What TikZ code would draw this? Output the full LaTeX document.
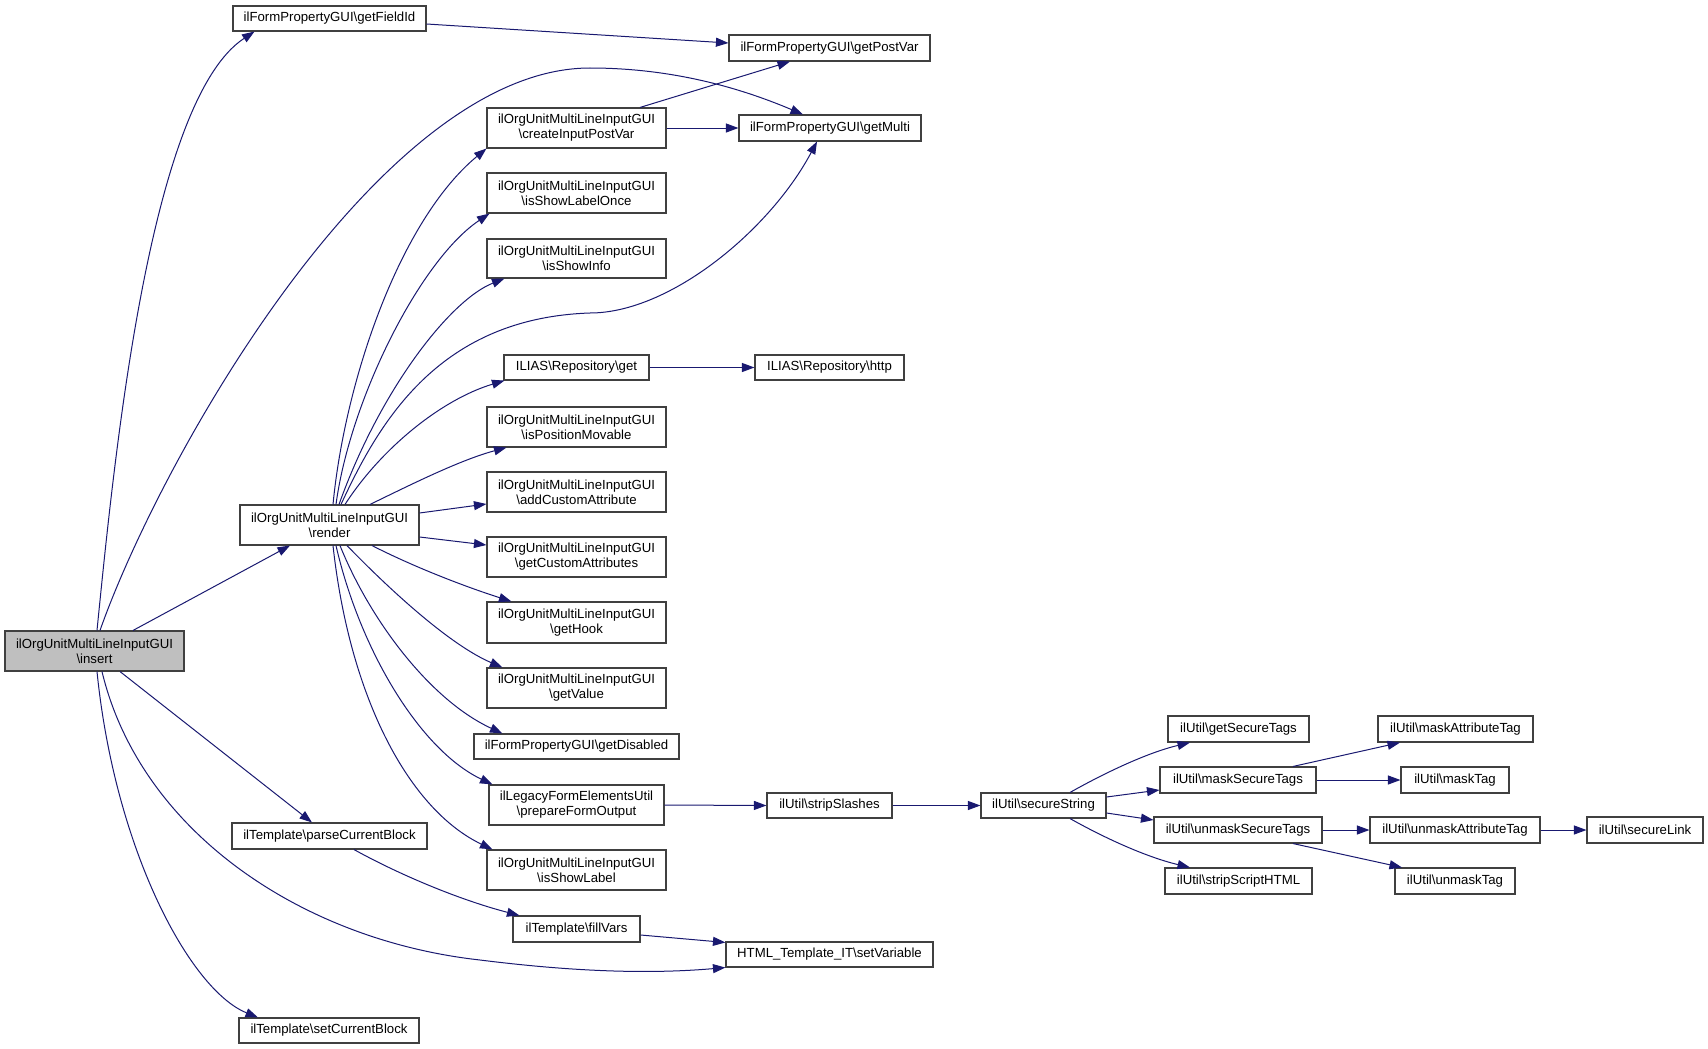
\documentclass[tikz,border=0pt]{standalone}
\usepackage{fontspec}
\setmainfont{Liberation Sans}
\usetikzlibrary{arrows.meta}
\definecolor{edgeblue}{HTML}{191970}
\definecolor{boxgray}{HTML}{404040}
\definecolor{fillgray}{HTML}{BFBFBF}
\def\bsl{\textbackslash}
\newcommand\nd[7][]{\node[box,#1,minimum width=#5pt,minimum height=#6pt] (#2) at (#3,#4) {#7};}
\begin{document}
\begin{tikzpicture}[x=1pt,y=-1pt,
  box/.style={draw=boxgray,line width=1.1pt,fill=white,inner sep=0pt,align=center,
    font=\fontsize{13.2}{15}\selectfont,text=black},
  curr/.style={fill=fillgray},
  edge/.style={draw=edgeblue,line width=1pt,-{Triangle[length=12.5pt,width=9pt]}}]
\useasboundingbox (0,0) rectangle (1708,1049);
% nodes
\nd[curr]{insert}{94.5}{651}{179}{40}{ilOrgUnitMultiLineInputGUI\\\bsl insert}
\nd{getFieldId}{329.5}{18.5}{193}{25}{ilFormPropertyGUI\bsl getFieldId}
\nd{render}{329.5}{525}{179}{40}{ilOrgUnitMultiLineInputGUI\\\bsl render}
\nd{parse}{329.5}{836}{195}{26}{ilTemplate\bsl parseCurrentBlock}
\nd{setcur}{329}{1030.5}{180}{25}{ilTemplate\bsl setCurrentBlock}
\nd{getPostVar}{829.5}{48}{201}{26}{ilFormPropertyGUI\bsl getPostVar}
\nd{getMulti}{830}{128}{182}{26}{ilFormPropertyGUI\bsl getMulti}
\nd{createIPV}{576.5}{128}{179}{40}{ilOrgUnitMultiLineInputGUI\\\bsl createInputPostVar}
\nd{showLabelOnce}{576.5}{193}{179}{40}{ilOrgUnitMultiLineInputGUI\\\bsl isShowLabelOnce}
\nd{showInfo}{576.5}{258.5}{179}{39}{ilOrgUnitMultiLineInputGUI\\\bsl isShowInfo}
\nd{repoGet}{576.5}{367.5}{145}{25}{ILIAS\bsl Repository\bsl get}
\nd{repoHttp}{829.5}{367.5}{149}{25}{ILIAS\bsl Repository\bsl http}
\nd{posMov}{576.5}{427}{179}{40}{ilOrgUnitMultiLineInputGUI\\\bsl isPositionMovable}
\nd{addCA}{576.5}{492}{179}{40}{ilOrgUnitMultiLineInputGUI\\\bsl addCustomAttribute}
\nd{getCA}{576.5}{557}{179}{40}{ilOrgUnitMultiLineInputGUI\\\bsl getCustomAttributes}
\nd{getHook}{576.5}{622.5}{179}{41}{ilOrgUnitMultiLineInputGUI\\\bsl getHook}
\nd{getValue}{576.5}{688}{179}{40}{ilOrgUnitMultiLineInputGUI\\\bsl getValue}
\nd{getDisabled}{576.5}{746.5}{205}{25}{ilFormPropertyGUI\bsl getDisabled}
\nd{prepare}{576.5}{805}{175}{40}{ilLegacyFormElementsUtil\\\bsl prepareFormOutput}
\nd{showLabel}{576.5}{870}{179}{40}{ilOrgUnitMultiLineInputGUI\\\bsl isShowLabel}
\nd{fillVars}{576.5}{929}{127}{26}{ilTemplate\bsl fillVars}
\nd{setVar}{829.5}{954.5}{207}{25}{HTML\_Template\_IT\bsl setVariable}
\nd{stripSlashes}{829.5}{805.5}{125}{25}{ilUtil\bsl stripSlashes}
\nd{secureString}{1043.5}{805.5}{125}{25}{ilUtil\bsl secureString}
\nd{getSecTags}{1238.5}{729}{141}{26}{ilUtil\bsl getSecureTags}
\nd{maskSecTags}{1238}{780}{156}{26}{ilUtil\bsl maskSecureTags}
\nd{unmaskSecTags}{1238}{830}{168}{26}{ilUtil\bsl unmaskSecureTags}
\nd{stripScript}{1238.5}{881}{147}{26}{ilUtil\bsl stripScriptHTML}
\nd{maskAttr}{1455.5}{729}{155}{26}{ilUtil\bsl maskAttributeTag}
\nd{maskTag}{1455}{780}{108}{26}{ilUtil\bsl maskTag}
\nd{unmaskAttr}{1455}{830}{170}{26}{ilUtil\bsl unmaskAttributeTag}
\nd{unmaskTag}{1455}{881}{120}{26}{ilUtil\bsl unmaskTag}
\nd{secureLink}{1645}{830}{116}{26}{ilUtil\bsl secureLink}
% edges from insert
\draw[edge] ([xshift=2.5pt]insert.north) .. controls (115,450) and (150,100) .. ([xshift=-75pt]getFieldId.south);
\draw[edge] ([xshift=5.5pt]insert.north) .. controls (160,460) and (380,68) .. (590,68) .. controls (680,68) and (750,92) .. ([xshift=-27pt]getMulti.north);
\draw[edge] ([xshift=38.5pt]insert.north) -- ([xshift=-39.5pt]render.south);
\draw[edge] ([xshift=25.5pt]insert.south) -- ([xshift=-17.5pt]parse.north);
\draw[edge] ([xshift=7.5pt]insert.south) .. controls (140,830) and (300,940) .. (480,960) .. controls (560,970) and (640,975) .. (setVar.south west);
\draw[edge] ([xshift=2.5pt]insert.south) .. controls (115,850) and (190,990) .. ([xshift=-71pt]setcur.north);
% getFieldId
\draw[edge] ([yshift=-5.5pt]getFieldId.east) -- ([yshift=5pt]getPostVar.west);
% edges from render
\draw[edge] ([xshift=3.5pt]render.north) .. controls (345,380) and (400,220) .. (createIPV.south west);
\draw[edge] ([xshift=6.5pt]render.north) .. controls (350,400) and (420,260) .. ([xshift=3pt]showLabelOnce.south west);
\draw[edge] ([xshift=9.5pt]render.north) .. controls (380,390) and (450,300) .. ([xshift=18pt]showInfo.south west);
\draw[edge] ([xshift=11.5pt]render.north) .. controls (380,420) and (440,318) .. (590,313) .. controls (670,313) and (770,230) .. ([xshift=-13pt]getMulti.south);
\draw[edge] ([xshift=15.5pt]render.north) .. controls (380,450) and (440,400) .. ([xshift=1pt]repoGet.south west);
\draw[edge] ([xshift=40.5pt]render.north) .. controls (410,485) and (460,460) .. ([xshift=20pt]posMov.south west);
\draw[edge] ([yshift=12pt]render.east) -- ([yshift=-12pt]addCA.west);
\draw[edge] ([yshift=-12pt]render.east) -- ([yshift=12pt]getCA.west);
\draw[edge] ([xshift=42.5pt]render.south) .. controls (410,565) and (460,585) .. ([xshift=25pt]getHook.north west);
\draw[edge] ([xshift=17.5pt]render.south) .. controls (390,590) and (450,645) .. ([xshift=16pt]getValue.north west);
\draw[edge] ([xshift=10.5pt]render.south) .. controls (370,620) and (430,700) .. ([xshift=29pt]getDisabled.north west);
\draw[edge] ([xshift=6.5pt]render.south) .. controls (360,650) and (420,750) .. ([xshift=4pt]prepare.north west);
\draw[edge] ([xshift=3.5pt]render.south) .. controls (350,700) and (410,810) .. ([xshift=6pt]showLabel.north west);
% other edges
\draw[edge] ([xshift=63.5pt]createIPV.north) -- ([xshift=-39.5pt]getPostVar.south);
\draw[edge] (createIPV.east) -- (getMulti.west);
\draw[edge] (repoGet.east) -- (repoHttp.west);
\draw[edge] ([xshift=24.5pt]parse.south) .. controls (400,875) and (460,900) .. ([xshift=7pt]fillVars.north west);
\draw[edge] ([yshift=-6pt]fillVars.east) -- ([yshift=-1pt]setVar.north west);
\draw[edge] (prepare.east) -- (stripSlashes.west);
\draw[edge] (stripSlashes.east) -- (secureString.west);
\draw[edge] ([xshift=26.5pt]secureString.north) .. controls (1110,770) and (1150,752) .. ([xshift=-48.5pt]getSecTags.south);
\draw[edge] ([yshift=8.5pt]secureString.east) -- ([yshift=-10pt]maskSecTags.west);
\draw[edge] ([yshift=-7.5pt]secureString.east) -- ([yshift=10pt]unmaskSecTags.west);
\draw[edge] ([xshift=26.5pt]secureString.south) .. controls (1110,841) and (1150,858) .. ([xshift=-48.5pt]stripScript.north);
\draw[edge] ([xshift=55pt]maskSecTags.north) -- ([xshift=-55.5pt]maskAttr.south);
\draw[edge] (maskSecTags.east) -- (maskTag.west);
\draw[edge] (unmaskSecTags.east) -- (unmaskAttr.west);
\draw[edge] ([xshift=55pt]unmaskSecTags.south) -- ([xshift=-53pt]unmaskTag.north);
\draw[edge] (unmaskAttr.east) -- (secureLink.west);
\end{tikzpicture}
\end{document}
